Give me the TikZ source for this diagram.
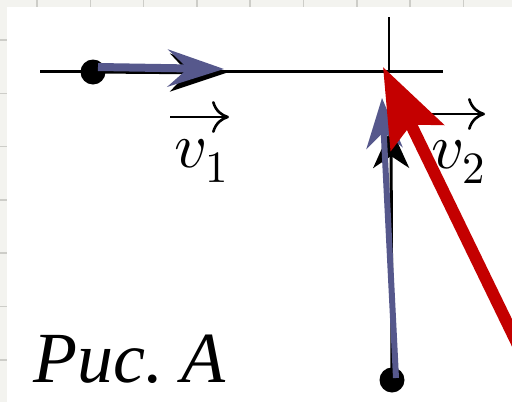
\documentclass[tikz,border=0pt]{standalone}
\usepackage{fontspec}
\newfontfamily\cyrfont{Liberation Serif}
\DeclareFontShape{OML}{cmm}{m}{it}{<->cmmi10}{}
\DeclareFontShape{OMS}{cmsy}{m}{n}{<->cmsy10}{}
\DeclareFontShape{OT1}{cmr}{m}{n}{<->cmr10}{}
\DeclareFontShape{OMX}{cmex}{m}{n}{<->cmex10}{}
\usetikzlibrary{arrows.meta}
\definecolor{vblue}{RGB}{86,88,140}
\definecolor{vred}{RGB}{196,0,0}
\definecolor{bgstrip}{RGB}{243,243,239}
\definecolor{gridgray}{RGB}{205,205,200}
\tikzset{
  gridline/.style={gridgray, line width=1.5pt},
  axisline/.style={black, line width=3pt},
  dotnode/.style={circle, fill=black, minimum size=25pt, inner sep=0pt},
  lab/.style={inner sep=0pt, anchor=base west, font=\fontsize{64}{64}\selectfont},
  overvec/.style={black, line width=2.6pt, -{Computer Modern Rightarrow[length=17pt,width=32pt,line width=2.6pt]}},
}
\begin{document}
\begin{tikzpicture}[x=1pt,y=-1pt]
\useasboundingbox (0,0) rectangle (512,402);
\clip (0,0) rectangle (512,402);
% slide background strip
\fill[bgstrip] (0,0) rectangle (512,402);
\foreach \i in {0,...,8} {\draw[gridline] ({37+53.3*\i},0) -- ++(0,402);}
\foreach \i in {0,...,6} {\draw[gridline] (0,{40+53.3*\i}) -- ++(512,0);}
\fill[white] (7,7) rectangle (512,402);
% axes
\coordinate (hl) at (40,71);
\coordinate (hr) at (443,71);
\coordinate (vt) at (389,17);
\coordinate (vb) at (389,71);
\draw[axisline] (hl) -- (hr);
\draw[axisline, line width=2.5pt] (vt) -- (vb);
% dots
\node[dotnode] (d1) at (93,72) {};
\node[dotnode] (d2) at (392,380) {};
% tips
\coordinate (t1b) at (226,73);
\coordinate (t1) at (224,69);
\coordinate (s1) at (98,67);
\coordinate (t2b) at (391,128);
\coordinate (t2) at (382,98);
\coordinate (s2) at (396,378);
\coordinate (t3) at (383,67);
\coordinate (s3) at (548,407);
% original black vectors
\draw[black, line width=3pt, -{Stealth[length=56pt,width=38pt,inset=18pt]}] (d1.center) -- (t1b);
\draw[black, line width=3pt, -{Stealth[length=40pt,width=36pt,inset=12pt]}] (d2.center) -- (t2b);
% blue vectors
\draw[vblue, line width=8pt, -{Stealth[length=56pt,width=37pt,inset=20pt]}] (s1) -- (t1);
\draw[vblue, line width=6pt, -{Stealth[length=50pt,width=36pt,inset=16pt]}] (s2) -- (t2);
% labels
\node[lab] (l1) at (174,167) {$v_{\raisebox{-6pt}{$\scriptstyle 1$}}$};
\node[lab] (l2) at (431,168) {$v_{\raisebox{-6pt}{$\scriptstyle 2$}}$};
\coordinate (a1s) at (170,117);
\coordinate (a1e) at (229,117);
\coordinate (a2s) at (426,114);
\coordinate (a2e) at (485,114);
\draw[overvec] (a1s) -- (a1e);
\draw[overvec] (a2s) -- (a2e);
% red vector
\draw[vred, line width=12pt, -{Stealth[length=78pt,width=58pt,inset=14pt]}] (s3) -- (t3);
% caption
\node[inner sep=0pt, anchor=base west, font=\cyrfont\itshape\fontsize{72}{72}\selectfont] (cap) at (33,382) {Рис.\ А};
\end{tikzpicture}
\end{document}
